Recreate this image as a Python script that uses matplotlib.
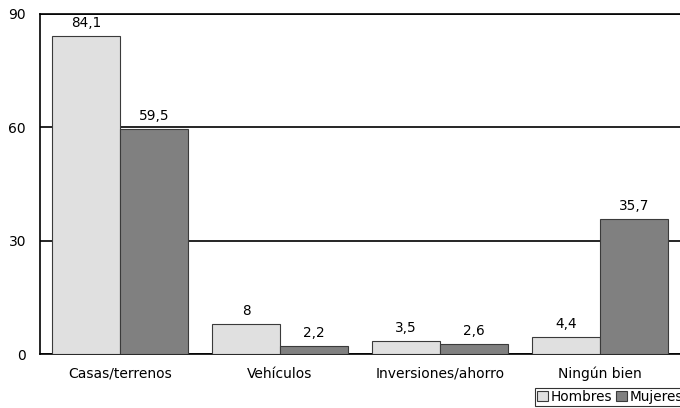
import numpy as np
import matplotlib.pyplot as plt

categories = ['Casas/terrenos', 'Vehículos', 'Inversiones/ahorro', 'Ningún bien']
hombres = [84.1, 8, 3.5, 4.4]
mujeres = [59.5, 2.2, 2.6, 35.7]
series_names = ['Hombres', 'Mujeres']

plt.rcParams['font.family'] = ['DejaVu Sans']
plt.rcParams['font.size'] = 9.8

fig = plt.figure(figsize=(6.8, 4.08), dpi=100)
ax = fig.add_axes([40/680, 1-354/408, 640/680, 340/408])

x = np.arange(len(categories))
w = 0.425
b1 = ax.bar(x - w/2, hombres, w, color='#e0e0e0', edgecolor='#3a3a3a', linewidth=0.8, label=series_names[0], zorder=3)
b2 = ax.bar(x + w/2, mujeres, w, color='#808080', edgecolor='#3a3a3a', linewidth=0.8, label=series_names[1], zorder=3)

def fmt(v):
  return ('%g' % v).replace('.', ',')

for bars, vals in ((b1, hombres), (b2, mujeres)):
  for bar, v in zip(bars, vals):
    ax.text(bar.get_x() + bar.get_width()/2, v + 1.6, fmt(v), ha='center', va='bottom')

ax.set_xlim(-0.5, 3.5)
ax.set_ylim(0, 90)
ax.set_yticks([0, 30, 60, 90])
ax.yaxis.grid(True, color='black', linewidth=1.2, zorder=0)
ax.tick_params(axis='both', length=0, labelsize=10)
ax.tick_params(axis='x', pad=9)
ax.tick_params(axis='y', pad=10)
ax.set_xticks(x)
ax.set_xticklabels(categories)
for s in ['left', 'bottom', 'top']:
  ax.spines[s].set_color('black')
  ax.spines[s].set_linewidth(1.2)
ax.spines['right'].set_visible(False)

leg = fig.legend(loc='lower left', bbox_to_anchor=(535/680, 2/408), ncol=2, frameon=True,
                 fancybox=False, edgecolor='black', handlelength=0.8, handleheight=0.7,
                 handletextpad=0.2, columnspacing=0.3, borderpad=0.15, borderaxespad=0,
                 fontsize=9.8)
leg.get_frame().set_linewidth(0.8)

plt.savefig('out.png', dpi=100)
